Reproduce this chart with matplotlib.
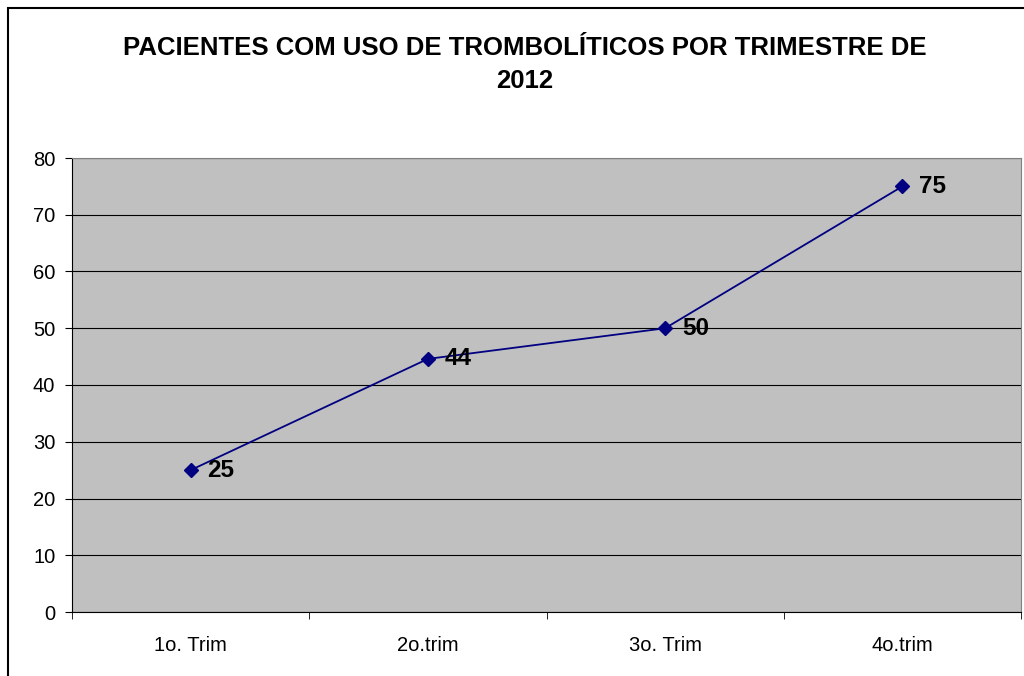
import matplotlib
matplotlib.use("Agg")
from matplotlib import pyplot as plt
from matplotlib.patches import Rectangle

# Data
trimestres = ["1o. Trim", "2o.trim", "3o. Trim", "4o.trim"]
pacientes = [25, 44.6, 50, 75]
rotulos = ["25", "44", "50", "75"]

plt.rcParams['font.family'] = ['Liberation Sans', 'DejaVu Sans']

fig = plt.figure(figsize=(10.24, 6.76), dpi=100)

# outer chart border (Excel style)
fig.patches.append(Rectangle((8/1024, -0.1), 1.2, 1 - 8/676 + 0.1,
                             transform=fig.transFigure, fill=False,
                             edgecolor="black", linewidth=1.5))

ax = fig.add_axes([72/1024, 64/676, 949/1024, 454/676])
ax.set_facecolor("#C0C0C0")

x = list(range(len(trimestres)))
ax.plot(x, pacientes, color="#000080", linewidth=1.3, marker="D",
        markersize=7, markerfacecolor="#000080", markeredgecolor="#000080",
        zorder=3)

for xi, yi, txt in zip(x, pacientes, rotulos):
    ax.annotate(txt, (xi, yi), xytext=(12, 0), textcoords="offset points",
                ha="left", va="center", fontsize=17.5, fontweight="bold")

ax.set_xlim(-0.5, len(trimestres) - 0.5)
ax.set_ylim(0, 80)
ax.set_yticks(range(0, 81, 10))
ax.yaxis.grid(True, color="black", linewidth=0.8)
ax.set_axisbelow(True)

ax.set_xticks(x)
ax.set_xticklabels(trimestres, fontsize=14.5)
ax.set_xticks([i - 0.5 for i in range(len(trimestres) + 1)], minor=True)
ax.tick_params(axis="x", which="major", length=0, pad=17)
ax.tick_params(axis="x", which="minor", length=5, direction="out")
ax.tick_params(axis="y", labelsize=14.5, length=5, direction="out", pad=7)

for side in ["top", "right"]:
    ax.spines[side].set_color("#808080")
for side in ["left", "bottom"]:
    ax.spines[side].set_color("black")

fig.text(525/1024, 1 - 48/676, "PACIENTES COM USO DE TROMBOLÍTICOS POR TRIMESTRE DE",
         ha="center", va="center", fontsize=18.5, fontweight="bold")
fig.text(525/1024, 1 - 81/676, "2012", ha="center", va="center",
         fontsize=18.5, fontweight="bold")

fig.savefig("out.png", dpi=100)
